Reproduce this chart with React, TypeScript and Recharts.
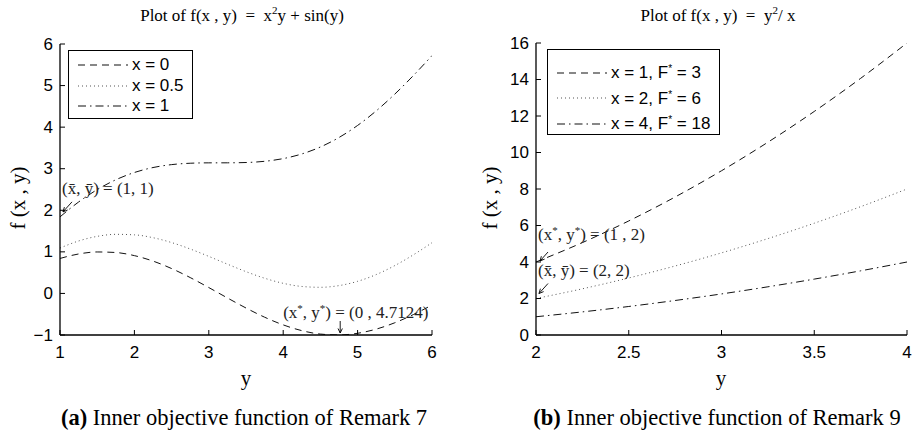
import React from 'react';
import { LineChart, Line, XAxis, YAxis, Legend, ReferenceDot } from 'recharts';

const SANS = "'Liberation Sans', Arial, Helvetica, sans-serif";
const SERIF = "'Liberation Serif', 'Times New Roman', Times, serif";

// ---------- Left panel data: f(x,y) = x^2 y + sin(y) ----------
const leftYValues = [1, 1.25, 1.5, 1.75, 2, 2.25, 2.5, 2.75, 3, 3.25, 3.5, 3.75, 4, 4.25, 4.5, 4.75, 5, 5.25, 5.5, 5.75, 6];
const leftX0 = [0.8415, 0.949, 0.9975, 0.984, 0.9093, 0.7781, 0.5985, 0.3817, 0.1411, -0.1082, -0.3508, -0.5716, -0.7568, -0.895, -0.9775, -0.9993, -0.9589, -0.8589, -0.7055, -0.5083, -0.2794];
const leftX05 = [1.0915, 1.2615, 1.3725, 1.4215, 1.4093, 1.3406, 1.2235, 1.0692, 0.8911, 0.7043, 0.5242, 0.3659, 0.2432, 0.1675, 0.1475, 0.1882, 0.2911, 0.4536, 0.6695, 0.9292, 1.2206];
const leftX1 = [1.8415, 2.199, 2.4975, 2.734, 2.9093, 3.0281, 3.0985, 3.1317, 3.1411, 3.1418, 3.1492, 3.1784, 3.2432, 3.355, 3.5225, 3.7507, 4.0411, 4.3911, 4.7945, 5.2417, 5.7206];
const leftXTicks = [1, 2, 3, 4, 5, 6];
const leftYTicks = [-1, 0, 1, 2, 3, 4, 5, 6];
const leftLabels = ['x = 0', 'x = 0.5', 'x = 1'];
const leftTitle = 'Plot of f(x , y)';
const leftCaption = 'Inner objective function of Remark 7';

// ---------- Right panel data: f(x,y) = y^2 / x ----------
const rightYValues = [2, 2.25, 2.5, 2.75, 3, 3.25, 3.5, 3.75, 4];
const rightX1 = [4, 5.0625, 6.25, 7.5625, 9, 10.5625, 12.25, 14.0625, 16];
const rightX2 = [2, 2.531, 3.125, 3.781, 4.5, 5.281, 6.125, 7.031, 8];
const rightX4 = [1, 1.266, 1.5625, 1.891, 2.25, 2.641, 3.0625, 3.516, 4];
const rightXTicks = [2, 2.5, 3, 3.5, 4];
const rightYTicks = [0, 2, 4, 6, 8, 10, 12, 14, 16];
const rightLabels = ['x = 1, F', 'x = 2, F', 'x = 4, F'];
const rightFStar = ['3', '6', '18'];
const rightCaption = 'Inner objective function of Remark 9';

const leftData = leftYValues.map((y, i) => ({ y, a: leftX0[i], b: leftX05[i], c: leftX1[i] }));
const rightData = rightYValues.map((y, i) => ({ y, a: rightX1[i], b: rightX2[i], c: rightX4[i] }));

const styles = [
  { key: 'a', dash: '7 5', color: '#111', width: 1 },
  { key: 'b', dash: '1 3', color: '#555', width: 1 },
  { key: 'c', dash: '8 4 1.5 4', color: '#111', width: 1 },
];

const TICK_FS = 17;
const fmt = (v: number) => String(v).replace('-', '\u2212');

const BottomTick = (p: any) => (
  <g>
    <line x1={p.x} x2={p.x} y1={p.y} y2={p.y - 5} stroke="#000" strokeWidth={1} />
    <text x={p.x} y={p.y + 17} textAnchor="middle" dominantBaseline="central" fontFamily={SANS} fontSize={TICK_FS} fill="#000">
      {fmt(p.payload.value)}
    </text>
  </g>
);
const LeftTick = (p: any) => (
  <g>
    <line x1={p.x} x2={p.x + 5} y1={p.y} y2={p.y} stroke="#000" strokeWidth={1} />
    <text x={p.x - 7} y={p.y} textAnchor="end" dominantBaseline="central" fontFamily={SANS} fontSize={TICK_FS} fill="#000">
      {fmt(p.payload.value)}
    </text>
  </g>
);
const TopTick = (p: any) => <line x1={p.x} x2={p.x} y1={p.y} y2={p.y + 5} stroke="#000" strokeWidth={1} />;
const RightTick = (p: any) => <line x1={p.x} x2={p.x - 5} y1={p.y} y2={p.y} stroke="#000" strokeWidth={1} />;

const Star = () => (
  <tspan baselineShift="super" fontSize={11}>*</tspan>
);

const LegendBox = ({ labels, stars, width, height, rowH, padTop }: any) => (
  <div
    style={{
      width,
      height,
      border: '1.3px solid #000',
      background: '#fff',
      boxSizing: 'border-box',
      fontFamily: SANS,
      fontSize: 17,
      paddingTop: padTop,
      color: '#000',
    }}
  >
    {styles.map((s, i) => (
      <div key={s.key} style={{ display: 'flex', alignItems: 'center', height: rowH, whiteSpace: 'nowrap' }}>
        <svg width={63} height={10} style={{ flex: 'none' }}>
          <line x1={9} x2={59} y1={5} y2={5} stroke={s.color} strokeWidth={1.2} strokeDasharray={s.dash} />
        </svg>
        <span>
          {labels[i]}
          {stars ? (
            <>
              <span style={{ fontSize: 10, verticalAlign: 'super', position: 'relative', top: 1 }}>*</span>
              {' = ' + stars[i]}
            </>
          ) : null}
        </span>
      </div>
    ))}
  </div>
);

const Arrow = ({ x1, y1, x2, y2 }: any) => {
  const ang = Math.atan2(y2 - y1, x2 - x1);
  const h = 5;
  const a1 = ang + Math.PI - 0.45;
  const a2 = ang + Math.PI + 0.45;
  return (
    <g stroke="#000" strokeWidth={0.9} fill="none">
      <line x1={x1} y1={y1} x2={x2} y2={y2} />
      <polyline points={`${x2 + h * Math.cos(a1)},${y2 + h * Math.sin(a1)} ${x2},${y2} ${x2 + h * Math.cos(a2)},${y2 + h * Math.sin(a2)}`} />
    </g>
  );
};

const annoFont = { fontFamily: SERIF, fontSize: 17, fill: '#222' };

const AnnoBar = (pair: string) => (vb: any) => {
  const cx = vb.viewBox.x + vb.viewBox.width / 2;
  const cy = vb.viewBox.y + vb.viewBox.height / 2;
  return (
    <g>
      <text x={cx + 2} y={cy - 23} {...annoFont}>
        {'(x\u0304, y\u0304) =  ' + pair}
      </text>
      <Arrow x1={cx + 12} y1={cy - 15} x2={cx + 3} y2={cy - 5} />
    </g>
  );
};

const AnnoStarLeft = (vb: any) => {
  const cx = vb.viewBox.x + vb.viewBox.width / 2;
  const cy = vb.viewBox.y + vb.viewBox.height / 2;
  return (
    <g>
      <text x={cx - 53} y={cy - 17} {...annoFont}>
        (x<Star />, y<Star />) = (0 , 4.7124)
      </text>
      <Arrow x1={cx + 4} y1={cy - 14} x2={cx + 4} y2={cy - 2} />
    </g>
  );
};

const AnnoStarRight = (vb: any) => {
  const cx = vb.viewBox.x + vb.viewBox.width / 2;
  const cy = vb.viewBox.y + vb.viewBox.height / 2;
  return (
    <g>
      <text x={cx + 2} y={cy - 22} {...annoFont}>
        (x<Star />, y<Star />) = (1 , 2)
      </text>
      <Arrow x1={cx + 12} y1={cy - 10} x2={cx + 4} y2={cy - 1} />
    </g>
  );
};

const abs = (left: number, top: number, extra: any = {}) => ({
  position: 'absolute' as const,
  left,
  top,
  whiteSpace: 'nowrap' as const,
  color: '#000',
  ...extra,
});

export default function App() {
  return (
    <div style={{ position: 'absolute', left: 0, top: 0, width: 915, height: 431, background: '#fff', overflow: 'hidden' }}>
      {/* Left chart */}
      <div style={{ position: 'absolute', left: 0, top: 0 }}>
        <LineChart width={457} height={431} data={leftData} margin={{ top: 44, right: 25, bottom: 66, left: 15 }}>
          <XAxis dataKey="y" type="number" domain={[1, 6]} ticks={leftXTicks} tick={<BottomTick />} tickSize={0} tickMargin={0} height={30} axisLine={{ stroke: '#000', strokeWidth: 1.3 }} tickLine={false} allowDataOverflow />
          <XAxis xAxisId="top" orientation="top" dataKey="y" type="number" domain={[1, 6]} ticks={leftXTicks} tick={<TopTick />} tickSize={0} tickMargin={0} height={0} axisLine={{ stroke: '#000', strokeWidth: 1.3 }} tickLine={false} allowDataOverflow />
          <YAxis type="number" domain={[-1, 6]} ticks={leftYTicks} tick={<LeftTick />} tickSize={0} tickMargin={0} width={45} axisLine={{ stroke: '#000', strokeWidth: 1.3 }} tickLine={false} allowDataOverflow />
          <YAxis yAxisId="right" orientation="right" type="number" domain={[-1, 6]} ticks={leftYTicks} tick={<RightTick />} tickSize={0} tickMargin={0} width={0} axisLine={{ stroke: '#000', strokeWidth: 1.3 }} tickLine={false} allowDataOverflow />
          {styles.map((s) => (
            <Line key={s.key} dataKey={s.key} type="monotone" stroke={s.color} strokeWidth={s.width} strokeDasharray={s.dash} dot={false} isAnimationActive={false} />
          ))}
          <ReferenceDot x={leftYValues[0]} y={leftX1[0]} r={0} fill="none" stroke="none" label={AnnoBar('(1, 1)')} />
          <ReferenceDot x={4.7124} y={-1} r={0} fill="none" stroke="none" label={AnnoStarLeft} />
          <Legend
            layout="vertical"
            align="center"
            verticalAlign="middle"
            wrapperStyle={{ left: 68, top: 50, width: 125, height: 68 }}
            content={() => <LegendBox labels={leftLabels} width={125} height={69} rowH={20.5} padTop={4} />}
          />
        </LineChart>
      </div>

      {/* Right chart */}
      <div style={{ position: 'absolute', left: 457, top: 0 }}>
        <LineChart width={458} height={431} data={rightData} margin={{ top: 43, right: 8, bottom: 66, left: 34 }}>
          <XAxis dataKey="y" type="number" domain={[2, 4]} ticks={rightXTicks} tick={<BottomTick />} tickSize={0} tickMargin={0} height={30} axisLine={{ stroke: '#000', strokeWidth: 1.3 }} tickLine={false} allowDataOverflow />
          <XAxis xAxisId="top" orientation="top" dataKey="y" type="number" domain={[2, 4]} ticks={rightXTicks} tick={<TopTick />} tickSize={0} tickMargin={0} height={0} axisLine={{ stroke: '#000', strokeWidth: 1.3 }} tickLine={false} allowDataOverflow />
          <YAxis type="number" domain={[0, 16]} ticks={rightYTicks} tick={<LeftTick />} tickSize={0} tickMargin={0} width={45} axisLine={{ stroke: '#000', strokeWidth: 1.3 }} tickLine={false} allowDataOverflow />
          <YAxis yAxisId="right" orientation="right" type="number" domain={[0, 16]} ticks={rightYTicks} tick={<RightTick />} tickSize={0} tickMargin={0} width={0} axisLine={{ stroke: '#000', strokeWidth: 1.3 }} tickLine={false} allowDataOverflow />
          {styles.map((s) => (
            <Line key={s.key} dataKey={s.key} type="monotone" stroke={s.color} strokeWidth={s.width} strokeDasharray={s.dash} dot={false} isAnimationActive={false} />
          ))}
          <ReferenceDot x={rightYValues[0]} y={rightX1[0]} r={0} fill="none" stroke="none" label={AnnoStarRight} />
          <ReferenceDot x={rightYValues[0]} y={rightX2[0]} r={0} fill="none" stroke="none" label={AnnoBar('(2, 2)')} />
          <Legend
            layout="vertical"
            align="center"
            verticalAlign="middle"
            wrapperStyle={{ left: 90, top: 49, width: 173, height: 86 }}
            content={() => <LegendBox labels={rightLabels} stars={rightFStar} width={173} height={86} rowH={25.5} padTop={10} />}
          />
        </LineChart>
      </div>

      {/* Titles */}
      <div style={abs(242, 15, { transform: 'translate(-50%, -50%)', fontFamily: SERIF, fontSize: 17 })}>
        {leftTitle}&nbsp; = &nbsp;x<sup style={{ fontSize: 11 }}>2</sup>y + sin(y)
      </div>
      <div style={abs(718, 15, { transform: 'translate(-50%, -50%)', fontFamily: SERIF, fontSize: 17 })}>
        {leftTitle}&nbsp; = &nbsp;y<sup style={{ fontSize: 11 }}>2</sup>/ x
      </div>

      {/* Y axis labels */}
      <div style={abs(18, 198, { transform: 'translate(-50%, -50%) rotate(-90deg)', fontFamily: SERIF, fontSize: 21 })}>f (x , y)</div>
      <div style={abs(490, 198, { transform: 'translate(-50%, -50%) rotate(-90deg)', fontFamily: SERIF, fontSize: 21 })}>f (x , y)</div>

      {/* X axis labels */}
      <div style={abs(246, 378, { transform: 'translate(-50%, -50%)', fontFamily: SERIF, fontSize: 21 })}>y</div>
      <div style={abs(721, 378, { transform: 'translate(-50%, -50%)', fontFamily: SERIF, fontSize: 21 })}>y</div>

      {/* Captions */}
      <div style={abs(244, 418, { transform: 'translate(-50%, -50%)', fontFamily: SERIF, fontSize: 22.5 })}>
        <b>(a)</b> {leftCaption}
      </div>
      <div style={abs(717, 418, { transform: 'translate(-50%, -50%)', fontFamily: SERIF, fontSize: 22.5 })}>
        <b>(b)</b> {rightCaption}
      </div>
    </div>
  );
}
